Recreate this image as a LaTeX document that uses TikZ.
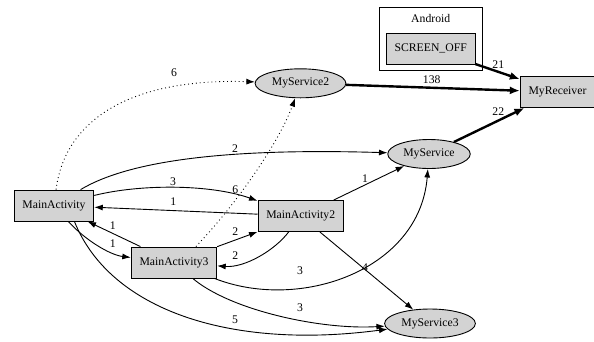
\documentclass[tikz,border=0pt]{standalone}
\usepackage{fontspec}
\setmainfont{Liberation Serif}
\usepackage{tikz}
\usetikzlibrary{shapes.geometric}
\usetikzlibrary{fit}
\usetikzlibrary{arrows.meta}
\definecolor{boxgray}{HTML}{D3D3D3}
\tikzset{act/.style={rectangle,draw,fill=boxgray,minimum height=31pt,inner xsep=8.3pt,inner ysep=0pt},svc/.style={ellipse,draw,fill=boxgray,minimum height=29pt,inner xsep=3.5pt,inner ysep=0pt},lbl/.style={inner sep=0pt},heavy/.style={line width=2.4pt,>={Latex[length=10pt,width=8pt]}},dotline/.style={dash pattern=on 0.9pt off 3pt}}

\begin{document}
\begin{tikzpicture}[x=1pt,y=-1pt,line width=0.9pt,>={Latex[length=8.5pt,width=6pt]},font=\fontsize{11.7}{14}\selectfont]
\useasboundingbox (0,0) rectangle (594,341);
\node (ma) [act] at (54,205.5) {MainActivity};
\node (ma2) [act] at (300.7,216) {MainActivity2};
\node (ma3) [act] at (174,262.5) {MainActivity3};
\node (ms) [svc] at (429,154) {MyService};
\node (ms2) [svc] at (300.5,83.3) {MyService2};
\node (ms3) [svc] at (430,323.5) {MyService3};
\node (mr) [act] at (557.5,92) {MyReceiver};
\node (so) [act] at (430.7,48.8) {SCREEN\_OFF};
\node (andlbl) [inner sep=0pt] at (430.7,18.5) {Android};
\node (android) [draw, fit=(so) (andlbl), inner xsep=6.7pt, inner ysep=6pt] {};


\draw[->, dotline] (ma) .. controls (65,120) and (130,78) .. (ms2) node[lbl] at (174,73) {6};
\draw[->] (ma) .. controls (130,160) and (230,148) .. (ms) node[lbl] at (235,148.7) {2};
\draw[->] (ma) .. controls (140,184) and (210,184) .. (ma2) node[lbl] at (173,181.7) {3};
\draw[->] (ma2) -- (ma) node[lbl] at (173.3,201.7) {1};
\draw[->] (ma3) -- (ma) node[lbl] at (112.7,226) {1};
\draw[->] (ma) .. controls (85,240) and (110,255) .. (ma3) node[lbl] at (112.7,244) {1};
\draw[->] (ma3) -- (ma2) node[lbl] at (235.3,231.7) {2};
\draw[->] (ma2) .. controls (275,250) and (245,268) .. (ma3) node[lbl] at (235.3,256) {2};
\draw[->] (ma3) .. controls (300,312) and (420,270) .. (ms) node[lbl] at (300,270.7) {3};
\draw[->] (ma2) -- (ms) node[lbl] at (365,178.3) {1};
\draw[->] (ma2) -- (ms3) node[lbl] at (365,267.3) {4};
\draw[->] (ma3) .. controls (230,310) and (320,330) .. (ms3) node[lbl] at (300,307.7) {3};
\draw[->] (ma.-38) .. controls (110,310) and (230,350) .. (ms3) node[lbl] at (235,320) {5};
\draw[->, dotline] (ma3.36) .. controls (240,200) and (280,140) .. (ms2) node[lbl] at (235.3,189.3) {6};
\draw[->, heavy] (ms2) -- (mr) node[lbl] at (431.7,80) {138};
\draw[->, heavy] (so) -- (mr) node[lbl] at (498.3,65) {21};
\draw[->, heavy] (ms) -- (mr) node[lbl] at (498.3,111.7) {22};
\end{tikzpicture}
\end{document}
